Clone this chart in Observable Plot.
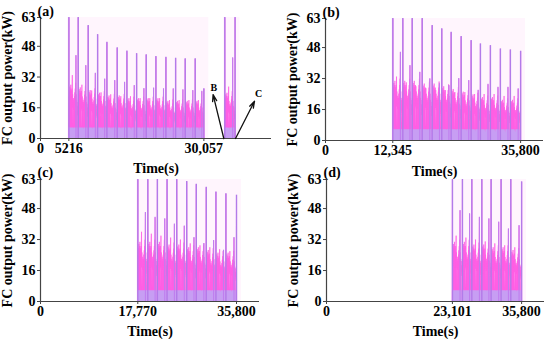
<!DOCTYPE html>
<html><head><meta charset="utf-8">
<script src="https://cdn.jsdelivr.net/npm/d3@7"></script>
<script src="https://cdn.jsdelivr.net/npm/@observablehq/plot@0.6"></script>
<style>
body{margin:0;background:#fff;}
#fig{position:relative;width:550px;height:339px;overflow:hidden;background:#fff;}
.panel{position:absolute;}
</style></head><body><div id="fig"></div>
<script>
// ---------- shared ----------
const yTicks = [0, 16, 32, 48, 63];
const yLabel = "FC output power(kW)";
const xLabel = "Time(s)";
// shape of one driving cycle: [phase within cycle, power (x cycle base) or per-cycle key]
const cyclePattern = [
  [0.000, 0], [0.006, "peak"], [0.016, 0.3], [0.032, 1.1], [0.05, 0.75], [0.068, 1.25],
  [0.086, 0.8], [0.104, 1.35], [0.122, 0.8], [0.14, 1.2], [0.158, 0.7], [0.176, 1.3],
  [0.194, 0.85], [0.212, 1.4], [0.23, 0.8], [0.25, 1.25], [0.27, 0.75], [0.29, 1.1],
  [0.31, 0.8], [0.33, 1.3], [0.35, 0.85], [0.375, "hump"], [0.39, 0.8], [0.41, 1.15],
  [0.43, 0.3], [0.45, 1.0], [0.47, 0.75], [0.49, 1.05], [0.51, 0.75], [0.53, 0.95],
  [0.55, 0.25], [0.57, 1.0], [0.59, 0.75], [0.61, 1.1], [0.63, 0.75], [0.65, 1.2],
  [0.67, 0.8], [0.69, 1.3], [0.71, 0.85], [0.73, 1.45], [0.75, 0.85], [0.765, "mid"],
  [0.78, 0.8], [0.80, 1.15], [0.82, 0.7], [0.84, 1.0], [0.86, 0.65], [0.88, 0.95],
  [0.90, 0.7], [0.92, 0.85], [0.94, 0.6], [0.96, 0.75], [0.975, 0.3], [0.99, 0]
];

// ---------- panel (a) ----------
const timesA = [5216, 6927, 8767, 10497, 12208, 14103, 15888, 17672, 19439, 21223, 23063, 24848, 26614, 28454, 30057];
const peaksA = [63, 63, 58.8, 54.1, 50.1, 47.2, 45.5, 44.2, 43.6, 42.7, 42.3, 41.8, 41.5, 41.5, 25.9];
const midsA  = [43.2, 38, 34, 31, 30.2, 29.3, 27.6, 26, 26.3, 25.9, 25.9, 25.4, 25, 24.6];
const humpsA = [33, 28, 25, 24, 23, 22, 22, 21, 21, 21, 20, 20, 20, 20];
const basesA = [20, 19, 18, 17, 16, 16, 15, 15, 15, 15, 14, 14, 14, 14];
const burstTimesA = [33900, 35800];
const burstPeaksA = [63, 63];
const burstMidsA  = [42];
const burstHumpsA = [27];
const burstBasesA = [17];
const xTicksA = [0, 5216, 30057];
const xTickLabelsA = ["0", "5216", "30,057"];
const annotLabels = ["B", "C"];
const annotTailT = [33725, 35880];
const annotTailP = [0, 0];
const annotHeadT = [31750, 39375];
const annotHeadP = [22.8, 19.4];
const annotTextT = [31880, 40110];
const annotTextP = [26.4, 23.1];

// ---------- panel (b) ----------
const timesB = [12345, 14178, 15900, 17733, 19565, 21325, 23047, 24880, 26712, 28416, 30248, 32081, 33913, 35800];
const peaksB = [63, 63, 63, 63, 59.4, 57.7, 55.9, 53.7, 51.6, 49.9, 49, 47.3, 46.8, 46.1];
const midsB  = [45.6, 38.7, 35.3, 31.9, 29.3, 28.4, 32, 31, 26, 29, 27.5, 27.5, 26.7];
const humpsB = [33, 30, 28, 27, 26, 26, 25, 25, 24, 24, 24, 23, 23];
const basesB = [22, 22, 22, 21, 21, 20, 19, 18, 17, 16, 16, 15, 15];
const xTicksB = [0, 12345, 35800];
const xTickLabelsB = ["0", "12,345", "35,800"];

// ---------- panel (c) ----------
const timesC = [17770, 19591, 21340, 23107, 24874, 26695, 28444, 30265, 32032, 33854, 35800];
const peaksC = [63, 63, 63, 63, 63, 62, 60.5, 59, 56.6, 55.7, 54.9];
const midsC  = [46, 43.5, 42.7, 40, 39, 33, 30, 31.5, 26.5, 33];
const humpsC = [36, 35, 34, 33, 32, 30, 29, 28, 27, 26];
const basesC = [22, 22, 22, 21, 21, 20, 20, 19, 18, 18];
const xTicksC = [0, 17770, 35800];
const xTickLabelsC = ["0", "17,770", "35,800"];

// ---------- panel (d) ----------
const timesD = [23101, 24934, 26656, 28489, 30193, 32026, 33803, 35800];
const peaksD = [63, 63, 63, 63, 63, 63, 63, 61.8];
const midsD  = [47, 45.3, 43.5, 42.7, 41, 37.5, 39.2];
const humpsD = [34, 33, 32, 31, 30, 29, 28];
const basesD = [22, 22, 21, 21, 20, 20, 19];
const xTicksD = [0, 23101, 35800];
const xTickLabelsD = ["0", "23,101", "35,800"];

// ---------- build series from the arrays ----------
function buildSegment(times, peaks, mids, humps, bases) {
  const pts = [];
  for (let i = 0; i < times.length - 1; i++) {
    const t0 = times[i], L = times[i + 1] - t0;
    for (const [ph, v] of cyclePattern) {
      let p, kind = "fill";
      if (v === "peak") { p = peaks[i]; kind = "peak"; }
      else if (v === "mid") { p = mids[i]; kind = "mid"; }
      else if (v === "hump") { p = humps[i]; kind = "hump"; }
      else p = v * bases[i];
      pts.push({t: t0 + ph * L, p, kind});
    }
  }
  const tEnd = times[times.length - 1];
  pts.push({t: tEnd, p: peaks[peaks.length - 1], kind: "peak"});
  pts.push({t: tEnd + 12, p: 0, kind: "fill"});
  return pts;
}

const PINK = "#ff5ee4", PURPLE = "#b27be9", MIDP = "#c07eef", LAV = "#c79ef3", BG = "#fff5fd", AX = "#444";
const FONT = "'Liberation Serif','Times New Roman',serif";

function makePanel(o) {
  const series = o.segments.flatMap(s => s);
  const extents = o.segments.map(s => ({x1: s[0].t - 250, x2: s[s.length - 1].t + 900}));
  const fmt = new Map(o.xTicks.map((t, i) => [t, o.xTickLabels[i]]));
  const marks = [
    Plot.rect(extents, {x1: "x1", x2: "x2", y1: 0, y2: 63, fill: BG}),
    Plot.areaY(series, {x: "t", y: "p", fill: PINK, curve: "linear"}),
    Plot.lineY(series, {x: "t", y: "p", stroke: PINK, strokeWidth: 0.7, curve: "linear"}),
    Plot.areaY(series, {x: "t", y: d => Math.min(d.p, 5.5), fill: LAV, curve: "linear"}),
    Plot.ruleX(series.filter(d => d.kind === "mid"), {x: "t", y1: 0, y2: "p", stroke: MIDP, strokeWidth: 1.1}),
    Plot.ruleX(series.filter(d => d.kind === "peak"), {x: "t", y1: 0, y2: "p", stroke: PURPLE, strokeWidth: 1.4}),
    Plot.ruleY([0], {stroke: AX, strokeWidth: 1.2}),
    Plot.ruleX([0], {stroke: AX, strokeWidth: 1.2}),
    Plot.axisX({ticks: o.xTicks, tickFormat: d => fmt.get(d), tickSize: 3, tickPadding: 2, stroke: AX,
      label: xLabel, labelAnchor: "center", labelOffset: o.xLabelOffset, labelArrow: "none"}),
    Plot.axisY({ticks: yTicks, tickFormat: d => String(d), tickSize: 3, tickPadding: 2, stroke: AX,
      label: yLabel, labelAnchor: "center", labelOffset: 38, labelArrow: "none"}),
    Plot.text([o.tag], {frameAnchor: "top-left", dx: -3, dy: o.tagDy, textAnchor: "start", lineAnchor: "middle",
      fontSize: 14, fontWeight: "bold", fill: "#000"})
  ];
  if (o.extra) marks.push(...o.extra);
  const svg = Plot.plot({
    width: 275, height: o.height,
    marginLeft: o.ml, marginRight: o.mr, marginTop: o.mt, marginBottom: o.mb,
    x: {domain: [0, o.xMax]},
    y: {domain: [0, 63]},
    style: {fontFamily: FONT, fontSize: "14px", fontWeight: "bold", color: "#000", background: "transparent", overflow: "visible"},
    marks
  });
  const div = document.createElement("div");
  div.className = "panel";
  div.style.left = o.left + "px";
  div.style.top = o.top + "px";
  div.appendChild(svg);
  document.getElementById("fig").appendChild(div);
}

const annotMarks = [
  Plot.arrow(annotLabels, {x1: (d, i) => annotTailT[i], y1: (d, i) => annotTailP[i],
    x2: (d, i) => annotHeadT[i], y2: (d, i) => annotHeadP[i], stroke: "#111", strokeWidth: 1.3, headLength: 8, headAngle: 35}),
  Plot.text(annotLabels, {x: (d, i) => annotTextT[i], y: (d, i) => annotTextP[i], text: d => d,
    fontSize: 10, fontWeight: "bold", fill: "#000"})
];

makePanel({tag: "(a)", left: 0, top: 0, height: 170, ml: 40, mr: 4, mt: 17, mb: 32, xMax: 42500,
  xLabelOffset: 34, tagDy: -6,
  segments: [buildSegment(timesA, peaksA, midsA, humpsA, basesA),
             buildSegment(burstTimesA, burstPeaksA, burstMidsA, burstHumpsA, burstBasesA)],
  xTicks: xTicksA, xTickLabels: xTickLabelsA, extra: annotMarks});
makePanel({tag: "(b)", left: 275, top: 0, height: 170, ml: 50, mr: 7, mt: 18, mb: 30, xMax: 40000,
  xLabelOffset: 35, tagDy: -6,
  segments: [buildSegment(timesB, peaksB, midsB, humpsB, basesB)],
  xTicks: xTicksB, xTickLabels: xTickLabelsB});
makePanel({tag: "(c)", left: 0, top: 170, height: 169, ml: 40, mr: 16, mt: 9, mb: 38, xMax: 40000,
  xLabelOffset: 34, tagDy: -7,
  segments: [buildSegment(timesC, peaksC, midsC, humpsC, basesC)],
  xTicks: xTicksC, xTickLabels: xTickLabelsC});
makePanel({tag: "(d)", left: 275, top: 170, height: 169, ml: 51, mr: 6, mt: 9, mb: 38, xMax: 40000,
  xLabelOffset: 34, tagDy: -7,
  segments: [buildSegment(timesD, peaksD, midsD, humpsD, basesD)],
  xTicks: xTicksD, xTickLabels: xTickLabelsD});
</script></body></html>
